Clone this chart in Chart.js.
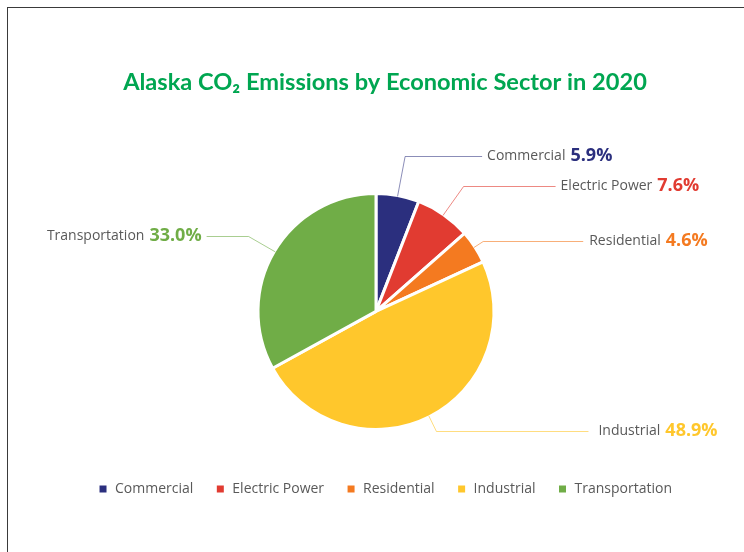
<!DOCTYPE html>
<html>
<head>
<meta charset="utf-8">
<script src="https://cdn.jsdelivr.net/npm/chart.js@4/dist/chart.umd.min.js"></script>
<style>
html, body { margin: 0; padding: 0; background: #fff; overflow: hidden; }
#frame {
    position: absolute; left: 7px; top: 7px; width: 800px; height: 600px;
    border-left: 1px solid #3a3a3a; border-top: 1px solid #3a3a3a;
}
#holder { position: absolute; left: 0; top: 0; width: 744px; height: 552px; }
</style>
</head>
<body>
<div id="frame"></div>
<div id="holder"><canvas id="pie" width="744" height="552"></canvas></div>
<script>
// --------------------------------
// Data
// --------------------------------

const sectors = ['Commercial', 'Electric Power', 'Residential', 'Industrial', 'Transportation'];
const shares = [5.9, 7.6, 4.6, 48.9, 33.0];
const sectorColors = ['#2b2f7e', '#e13b31', '#f47a20', '#ffc72c', '#70ad47'];
const leaderColors = ['rgba(43, 47, 126, 0.55)', 'rgba(225, 59, 49, 0.6)', 'rgba(244, 122, 32, 0.6)',
    'rgba(255, 199, 44, 0.6)', 'rgba(112, 173, 71, 0.6)'];

// where each leader line bends, and how long its flat part runs
const leaderElbow = [158, 153, 128, 134, 148];
const leaderRun = [77, 92, 100, 152, 42];
const leaderGap = [5, 5, 6, 10, 5];

const grey = '#595959';

// --------------------------------
// Leader labels
// --------------------------------

const leaderLabels = {
    id: 'leaderLabels',
    afterDatasetsDraw(chart) {
        const ctx = chart.ctx;
        const arcs = chart.getDatasetMeta(0).data;

        arcs.forEach((arc, i) => {
            const p = arc.getProps(['x', 'y', 'startAngle', 'endAngle', 'outerRadius'], true);
            const mid = (p.startAngle + p.endAngle) / 2;
            const cos = Math.cos(mid);
            const sin = Math.sin(mid);
            const x0 = p.x + cos * (p.outerRadius - 1);
            const y0 = p.y + sin * (p.outerRadius - 1);
            const x1 = p.x + cos * leaderElbow[i];
            const y1 = Math.round(p.y + sin * leaderElbow[i]) + 0.5;
            const right = cos >= 0;
            const x2 = right ? x1 + leaderRun[i] : x1 - leaderRun[i];

            ctx.save();
            ctx.strokeStyle = leaderColors[i];
            ctx.lineWidth = 1;
            ctx.beginPath();
            ctx.moveTo(x0, y0);
            ctx.lineTo(x1, y1);
            ctx.lineTo(x2, y1);
            ctx.stroke();

            const nameFont = '14px "Open Sans"';
            const valueFont = 'bold 18px "Open Sans"';
            const valueText = shares[i].toFixed(1) + '%';
            ctx.textBaseline = 'middle';

            ctx.font = nameFont;
            const nameW = ctx.measureText(sectors[i]).width;
            ctx.font = valueFont;
            const valueW = ctx.measureText(valueText).width;
            const gap = 5;
            const startX = right ? x2 + leaderGap[i] : x2 - leaderGap[i] - valueW - gap - nameW;

            ctx.textAlign = 'left';
            ctx.font = nameFont;
            ctx.fillStyle = grey;
            ctx.fillText(sectors[i], startX, y1);
            ctx.font = valueFont;
            ctx.fillStyle = sectorColors[i];
            ctx.fillText(valueText, startX + nameW + gap, y1 - 1);
            ctx.restore();
        });
    }
};

// --------------------------------
// Pie Chart
// --------------------------------

const pieChart = new Chart(document.getElementById('pie'), {
    type: 'pie',
    data: {
        labels: sectors,
        datasets: [{
            data: shares,
            backgroundColor: sectorColors,
            borderColor: '#ffffff',
            borderWidth: 3
        }]
    },
    options: {
        responsive: false,
        animation: false,
        radius: 118,
        layout: {
            padding: { left: 26, right: 0, top: 0, bottom: 46 }
        },
        plugins: {
            title: {
                display: true,
                text: 'Alaska CO\u2082 Emissions by Economic Sector in 2020',
                color: '#00a651',
                font: { family: 'Lato', size: 23.6, weight: 'bold', lineHeight: 1.2 },
                padding: { top: 68, bottom: 66.5 }
            },
            subtitle: {
                display: true,
                position: 'right',
                text: '',
                font: { size: 10, lineHeight: 1 },
                padding: { top: 4, bottom: 4 }
            },
            legend: {
                position: 'bottom',
                labels: {
                    boxWidth: 10,
                    boxHeight: 10,
                    padding: 22,
                    color: grey,
                    font: { family: 'Open Sans', size: 14 }
                }
            },
            tooltip: { enabled: false }
        }
    },
    plugins: [leaderLabels]
});
</script>
</body>
</html>
